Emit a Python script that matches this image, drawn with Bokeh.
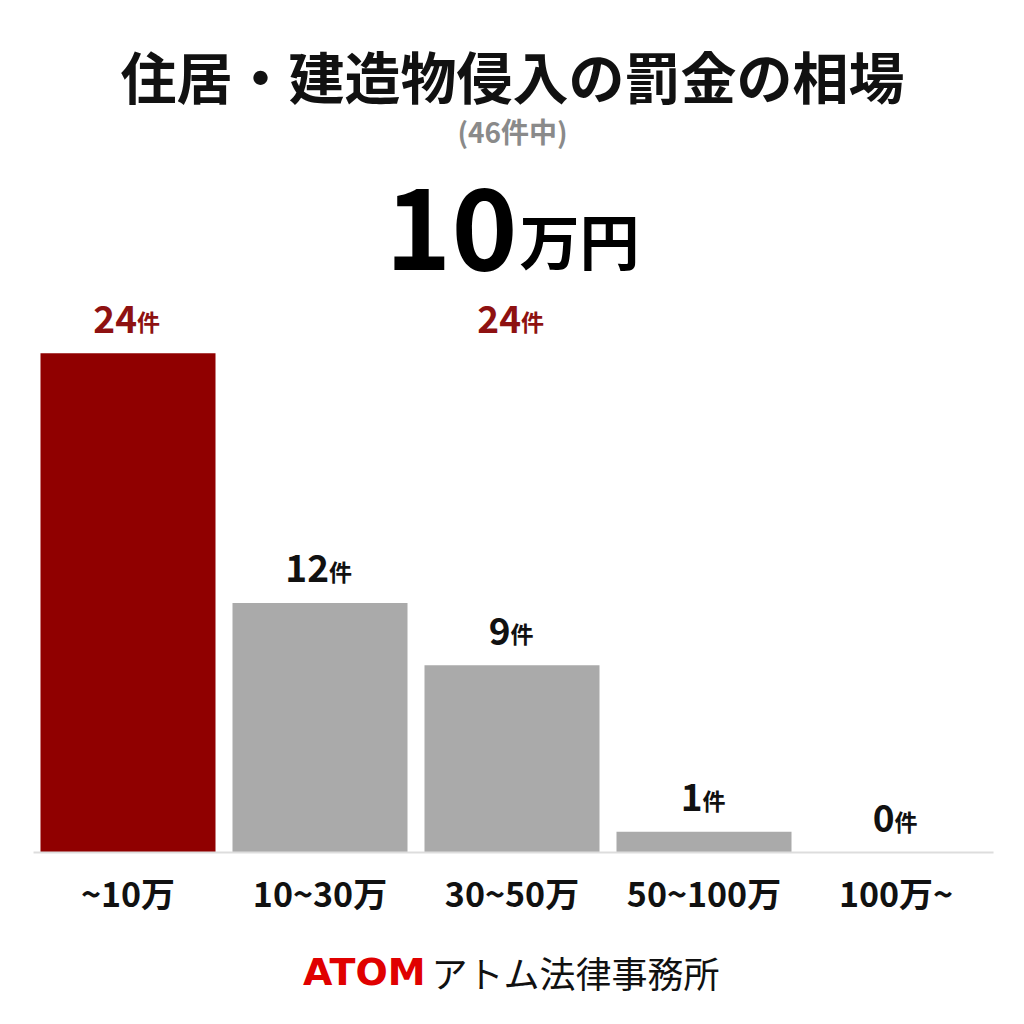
from bokeh.plotting import figure
from bokeh.models import Range1d, Label
from bokeh.core.properties import value
from bokeh.embed import file_html
from bokeh.resources import INLINE

# ---- data ----
categories = ["~10万", "10~30万", "30~50万", "50~100万", "100万~"]
counts = [24, 12, 9, 1, 0]
highlight = [True, False, False, False, False]
extra_label_pos = 2      # stray repeated label in the reference
extra_label_value = 24
title_text = "住居・建造物侵入の罰金の相場"
subtitle_text = "(46件中)"
headline_num = "10"
headline_unit = "万円"
brand = "ATOM"
brand_rest = "アトム法律事務所"

W = H = 1008
PX_PER_X = 192.0
X0 = 127.5
PX_PER_Y = 20.8
Y0 = 156.0

RED = "#900000"
RED_TXT = "#8e1111"
GREY = "#aaaaaa"
JP = "Noto Sans CJK JP"

p = figure(width=W, height=H, output_backend="svg", toolbar_location=None,
           x_range=Range1d(-X0 / PX_PER_X, (W - X0) / PX_PER_X),
           y_range=Range1d(-Y0 / PX_PER_Y, (H - Y0) / PX_PER_Y),
           min_border=0, outline_line_color=None)
p.axis.visible = False
p.grid.visible = False
p.background_fill_color = "white"
p.border_fill_color = "white"

xs = list(range(len(categories)))
colors = [RED if h else GREY for h in highlight]
p.vbar(x=xs, top=counts, bottom=0, width=175 / PX_PER_X, fill_color=colors, line_color=None)

# baseline
p.segment(x0=[-0.492], y0=[0], x1=[len(categories) - 0.492], y1=[0], line_color="#dddddd", line_width=2)

DIG_W = 21.0
KAN_W = 24.0

def value_label(x, v, color):
    s = str(v)
    total = len(s) * DIG_W + KAN_W
    split = len(s) * DIG_W - total / 2
    p.text(x=[x], y=[v], text=[s], x_offset=split, y_offset=-34,
           text_font=value(JP), text_font_style="bold", text_font_size="37px",
           text_color=color, text_align="right", text_baseline="middle")
    p.text(x=[x], y=[v], text=["件"], x_offset=split, y_offset=-32,
           text_font=value(JP), text_font_style="bold", text_font_size="23px",
           text_color=color, text_align="left", text_baseline="middle")

for i, v in enumerate(counts):
    value_label(i, v, RED_TXT if highlight[i] else "#111111")
value_label(extra_label_pos, extra_label_value, RED_TXT)

# category labels
p.text(x=xs, y=[0] * len(xs), text=categories, y_offset=40,
       text_font=value(JP), text_font_style="bold", text_font_size="34px",
       text_color="#111111", text_align="center", text_baseline="middle")

p.add_layout(Label(x=512, y=934, x_units="screen", y_units="screen", text=title_text,
                   text_font=JP, text_font_style="bold", text_font_size="56px",
                   text_color="#111111", text_align="center", text_baseline="middle"))
p.add_layout(Label(x=512, y=878, x_units="screen", y_units="screen", text=subtitle_text,
                   text_font=JP, text_font_style="bold", text_font_size="28px",
                   text_color="#8a8a8a", text_align="center", text_baseline="middle"))
p.add_layout(Label(x=517, y=780, x_units="screen", y_units="screen", text=headline_num,
                   text_font=JP, text_font_style="bold", text_font_size="112px",
                   text_color="#000000", text_align="right", text_baseline="alphabetic"))
p.add_layout(Label(x=519, y=770, x_units="screen", y_units="screen", text=headline_unit,
                   text_font=JP, text_font_style="bold", text_font_size="60px",
                   text_color="#000000", text_align="left", text_baseline="alphabetic"))
p.add_layout(Label(x=425, y=37, x_units="screen", y_units="screen", text=brand,
                   text_font="DejaVu Sans", text_font_style="bold", text_font_size="38px",
                   text_color="#e00000", text_align="right", text_baseline="middle"))
p.add_layout(Label(x=431, y=37, x_units="screen", y_units="screen", text=brand_rest,
                   text_font=JP, text_font_style="normal", text_font_size="36px",
                   text_color="#111111", text_align="left", text_baseline="middle"))

open("out.html", "w").write(file_html(p, INLINE))
